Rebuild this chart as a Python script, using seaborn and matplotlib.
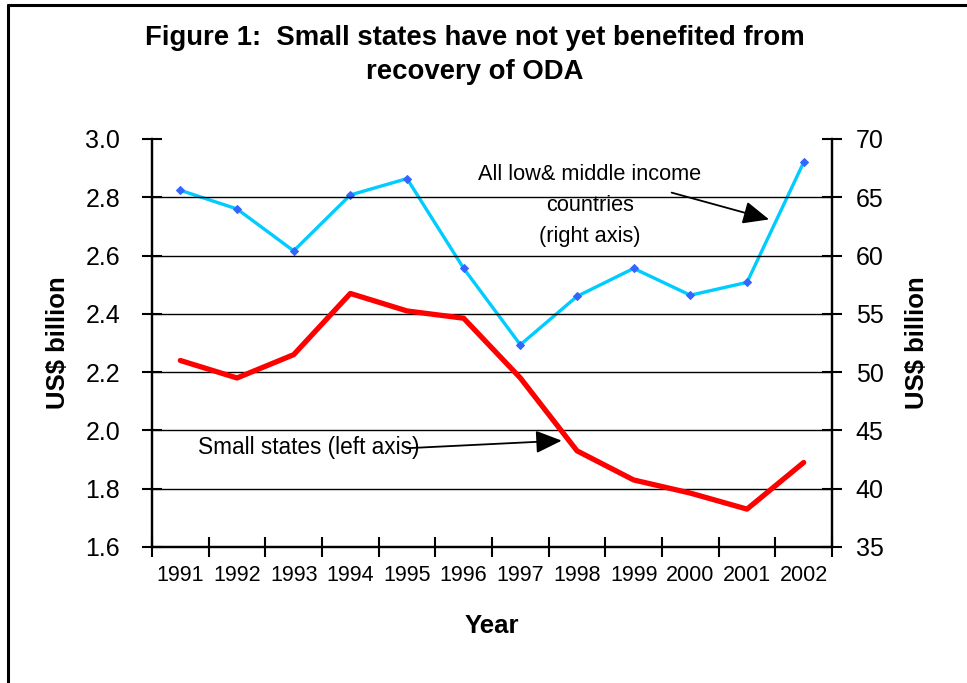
import numpy as np
import pandas as pd
import matplotlib
matplotlib.use("Agg")
import matplotlib.pyplot as plt
from matplotlib.lines import Line2D
from matplotlib.ticker import FixedLocator, NullFormatter
import seaborn as sns

years = ["1991", "1992", "1993", "1994", "1995", "1996",
         "1997", "1998", "1999", "2000", "2001", "2002"]
small_states = [2.24, 2.18, 2.26, 2.47, 2.41, 2.385,
                2.18, 1.93, 1.83, 1.785, 1.73, 1.89]
low_middle = [65.6, 64.0, 60.4, 65.2, 66.6, 58.9,
              52.35, 56.5, 58.9, 56.6, 57.7, 68.0]
left_ticks = [1.6, 1.8, 2.0, 2.2, 2.4, 2.6, 2.8, 3.0]
right_ticks = [35, 40, 45, 50, 55, 60, 65, 70]

title = "Figure 1:  Small states have not yet benefited from\nrecovery of ODA"

sns.set_style("white")
plt.rcParams["font.family"] = ["Liberation Sans", "DejaVu Sans"]
plt.rcParams["text.color"] = "black"
plt.rcParams["axes.labelcolor"] = "black"
plt.rcParams["xtick.color"] = "black"
plt.rcParams["ytick.color"] = "black"

df = pd.DataFrame({"pos": np.arange(len(years)),
                   "small": small_states,
                   "all": low_middle})

fig = plt.figure(figsize=(9.67, 6.83), dpi=100)
ax = fig.add_axes([152 / 967, 1 - 547 / 683, 680 / 967, 408 / 683])
ax2 = ax.twinx()

sns.lineplot(data=df, x="pos", y="small", ax=ax, color="#FF0000",
             linewidth=3.8, zorder=5)
sns.lineplot(data=df, x="pos", y="all", ax=ax2, color="#00CCFF",
             linewidth=2.4, marker="D", markersize=4.5,
             markerfacecolor="#3366FF", markeredgecolor="#3366FF", zorder=4)

ax.set_zorder(2)
ax.patch.set_visible(False)

n = len(years)
ax.set_xlim(-0.5, n - 0.5)
ax.set_ylim(left_ticks[0], left_ticks[-1])
ax2.set_ylim(right_ticks[0], right_ticks[-1])

# category boundaries get the tick marks, category centres get the labels
ax.xaxis.set_major_locator(FixedLocator(np.arange(n + 1) - 0.5))
ax.xaxis.set_major_formatter(NullFormatter())
ax.xaxis.set_minor_locator(FixedLocator(np.arange(n)))
ax.set_xticks(np.arange(n), labels=years, minor=True)
ax.tick_params(axis="x", which="major", direction="inout", length=14,
               width=1.5, color="black", bottom=True)
ax.tick_params(axis="x", which="minor", length=0, pad=13, labelsize=15.5,
               bottom=True, labelcolor="black")

ax.set_yticks(left_ticks, labels=[f"{v:.1f}" for v in left_ticks])
ax.tick_params(axis="y", direction="inout", length=14, width=1.5,
               color="black", labelsize=18, pad=16, left=True,
               labelcolor="black")
ax2.set_yticks(right_ticks, labels=[str(v) for v in right_ticks])
ax2.tick_params(axis="y", direction="inout", length=14, width=1.5,
                color="black", labelsize=18, pad=10, right=True,
                labelcolor="black")

ax.grid(False)
ax2.grid(False)
for v in left_ticks[1:-1]:
    ax.axhline(v, color="black", linewidth=1.0, zorder=1)

for a in (ax, ax2):
    a.spines["top"].set_visible(False)
    for s in ("left", "right", "bottom"):
        a.spines[s].set_color("black")
        a.spines[s].set_linewidth(1.6)

lab_font = dict(fontsize=18.5, fontweight="bold", color="black")
ax.set_xlabel("Year", **lab_font)
ax.xaxis.set_label_coords(0.5, (547 - 626) / 408)
ax.xaxis.label.set_va("center")
ax.set_ylabel("US$ billion", **lab_font)
ax.yaxis.set_label_coords((58 - 152) / 680, 0.5)
ax.yaxis.label.set_va("center")
ax.yaxis.label.set_ha("center")
ax2.set_ylabel("US$ billion", **lab_font)
ax2.yaxis.set_label_coords((917 - 152) / 680, 0.5)
ax2.yaxis.label.set_va("center")
ax2.yaxis.label.set_ha("center")

arrow = dict(arrowstyle="-|>,head_length=0.8,head_width=0.35",
             color="black", linewidth=1.3, mutation_scale=20,
             shrinkA=0, shrinkB=0)
ax.annotate("", xy=(10.39, 2.724), xytext=(8.67, 2.816), arrowprops=arrow,
            zorder=6)
ax.text(7.23, 2.772, "All low& middle income\ncountries\n(right axis)",
        ha="center", va="center", fontsize=15.7, linespacing=1.6, zorder=6)
ax.annotate("", xy=(6.73, 1.965), xytext=(4.0, 1.939), arrowprops=arrow,
            zorder=6)
ax.text(0.31, 1.943, "Small states (left axis)", ha="left", va="center",
        fontsize=16.3, zorder=6)

fig.suptitle(title, x=475 / 967, y=1 - 55 / 683, va="center",
             fontsize=19.8, fontweight="bold", linespacing=1.36,
             color="black")

# outer frame of the figure panel
fig.add_artist(Line2D([8 / 967, 8 / 967], [0, 1 - 5 / 683],
                      transform=fig.transFigure, color="black", linewidth=2.2))
fig.add_artist(Line2D([8 / 967, 1], [1 - 5 / 683, 1 - 5 / 683],
                      transform=fig.transFigure, color="black", linewidth=2.2))

fig.savefig("out.png", dpi=100, facecolor="white")
